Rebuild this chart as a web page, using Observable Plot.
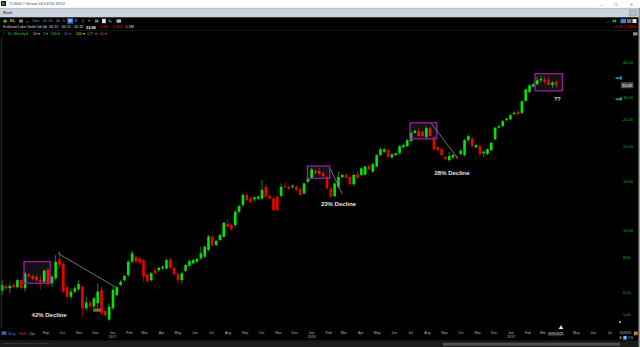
<!DOCTYPE html>
<html><head><meta charset="utf-8">
<script src="https://cdn.jsdelivr.net/npm/d3@7"></script>
<script src="https://cdn.jsdelivr.net/npm/@observablehq/plot@0.6"></script>
<style>
html,body{margin:0;padding:0;background:#000;overflow:hidden;}
#wrap{position:relative;width:640px;height:347px;overflow:hidden;background:#000;}
#wrap svg{position:absolute;left:0;top:0;}
</style></head><body><div id="wrap"></div>
<script>
// ---- data (weekly candles, Kirkland Lake Gold) ----
const firstWeek = "2016-06-13";
const lastWeek = "2019-03-25";
const open = [6.06,6.30,6.18,6.35,6.23,6.61,6.18,6.93,6.84,6.80,6.61,6.52,7.22,6.44,6.71,7.85,7.55,6.23,5.76,6.01,
6.13,6.26,5.24,5.49,5.31,5.46,6.09,5.12,4.77,5.24,5.84,6.35,6.61,6.89,7.70,8.02,7.91,7.80,6.93,6.61,
7.18,7.18,7.28,7.28,7.85,7.32,6.95,6.61,7.14,7.44,7.59,7.70,7.91,8.02,8.48,9.46,8.83,9.21,9.46,10.55,
10.42,10.42,11.63,12.30,13.36,12.99,12.90,12.95,12.99,14.30,13.25,12.99,13.17,13.25,14.40,14.30,14.25,14.30,14.05,13.54,
14.90,15.40,16.30,16.30,16.00,15.50,14.10,13.25,14.30,15.50,15.76,15.50,14.60,15.90,15.76,15.80,16.98,16.20,16.90,18.58,
19.10,19.36,18.23,18.60,18.85,19.83,20.00,20.85,22.36,22.66,22.50,21.60,23.20,21.50,19.83,19.50,18.30,17.83,18.23,18.30,
18.75,18.58,21.02,21.30,19.83,20.00,18.85,18.75,19.36,21.15,23.30,23.60,24.80,24.98,26.06,26.60,26.34,29.10,31.30,32.70,
33.40,34.47,34.70,34.47,33.20,34.15];
const high = [6.61,6.40,6.44,6.47,6.71,6.67,7.07,7.02,6.93,6.89,6.80,7.22,7.32,6.89,8.13,8.40,7.70,6.30,6.18,6.30,
6.61,6.30,5.76,5.60,5.76,6.44,6.26,5.20,5.46,6.26,6.30,6.61,6.89,7.80,8.45,8.13,8.02,7.91,6.99,7.07,
7.38,7.38,7.49,7.91,7.95,7.40,7.02,7.07,7.55,7.85,7.91,7.95,8.71,8.83,9.60,9.60,9.20,9.70,10.70,10.90,
10.55,11.80,12.30,13.54,13.60,13.20,13.20,13.30,15.12,14.70,13.50,13.10,13.36,14.70,14.80,14.50,14.60,14.50,14.20,14.80,
15.40,16.70,16.60,16.80,16.20,15.70,14.30,14.80,16.20,15.90,16.00,15.70,15.90,16.30,16.80,17.00,17.30,17.40,18.70,19.70,
19.70,19.60,18.90,19.00,20.20,20.40,21.20,22.60,22.90,23.20,22.80,23.60,23.50,21.70,20.10,19.70,18.50,19.10,18.80,18.60,
19.50,21.30,22.00,21.60,20.40,20.30,19.30,19.70,20.80,23.40,23.80,24.90,25.30,26.10,26.60,26.90,29.20,32.20,33.40,33.80,
35.50,35.80,35.60,35.40,34.20,34.21];
const low = [5.84,6.09,5.93,6.18,6.18,6.13,6.01,6.75,6.61,6.52,6.09,6.44,6.26,6.26,6.61,7.28,5.93,5.69,5.65,5.93,
6.06,4.88,5.16,5.24,5.24,5.24,4.95,4.88,4.72,5.16,5.80,6.30,6.52,6.80,7.59,7.59,7.55,6.52,6.44,6.52,
6.93,7.07,7.22,7.22,7.28,6.89,6.44,6.44,7.07,7.38,7.55,7.63,7.80,7.95,8.40,8.71,8.75,9.10,9.40,10.20,
9.95,10.20,11.50,12.10,12.70,12.50,12.70,12.80,12.81,13.10,12.90,11.70,11.63,13.10,14.10,13.90,14.10,13.80,13.30,13.40,
14.70,15.20,15.80,15.70,15.40,14.00,13.10,13.10,14.10,15.30,15.30,14.50,14.40,15.30,15.60,15.70,16.40,16.00,16.80,18.40,
18.90,18.20,18.00,18.40,18.70,19.70,19.90,20.70,22.10,21.60,21.50,21.00,21.60,19.30,19.10,18.40,17.80,17.60,18.00,17.90,
18.50,18.40,20.70,19.80,19.60,18.50,18.30,18.60,19.20,21.00,23.10,23.40,24.60,24.80,25.80,25.80,26.10,28.90,31.00,32.50,
33.00,34.00,33.20,33.00,32.40,32.32];
const close = [6.35,6.18,6.30,6.23,6.61,6.18,6.99,6.80,6.67,6.61,6.52,7.14,6.47,6.80,7.70,7.49,6.01,5.76,6.01,6.18,
6.40,5.24,5.49,5.31,5.69,6.01,5.02,4.95,5.31,6.09,6.23,6.52,6.84,7.70,8.25,7.70,7.63,6.80,6.57,6.99,
6.99,7.32,7.38,7.80,7.32,6.95,6.61,6.99,7.49,7.74,7.80,7.87,8.25,8.71,9.46,8.83,9.15,9.60,10.62,10.28,
10.06,11.63,12.19,13.36,12.81,12.60,13.10,13.17,13.92,13.17,12.99,11.80,11.80,14.30,14.25,14.05,14.40,13.92,13.36,14.70,
15.30,16.50,16.00,15.90,15.60,14.10,13.17,14.70,15.50,15.76,15.40,14.60,15.76,15.40,16.65,16.90,16.50,17.25,18.58,19.50,
19.50,18.30,18.70,18.85,20.00,20.17,21.02,22.36,22.71,21.74,21.74,23.20,21.74,19.50,19.36,18.58,17.97,18.43,18.58,18.10,
19.25,21.02,21.74,20.00,20.17,18.75,19.10,19.50,20.56,23.30,23.60,24.60,25.10,25.83,26.34,26.06,29.00,31.97,33.07,33.40,
34.47,34.80,34.10,33.20,33.80,33.09];
const yTicks = [5, 6, 8, 10, 15, 20, 25, 30, 40];
const monthTicks = ["2016-09-01","2016-10-01","2016-11-01","2016-12-01","2017-01-01","2017-02-01","2017-03-01","2017-04-01",
"2017-05-01","2017-06-01","2017-07-01","2017-08-01","2017-09-01","2017-10-01","2017-11-01","2017-12-01","2018-01-01",
"2018-02-01","2018-03-01","2018-04-01","2018-05-01","2018-06-01","2018-07-01","2018-08-01","2018-09-01","2018-10-01",
"2018-11-01","2018-12-01","2019-01-01","2019-02-01","2019-03-01","2019-05-01","2019-06-01","2019-07-01"];
const yearTicks = ["2017-01-01","2018-01-01","2019-01-01"];
const boxes = [
  {from:"2016-07-24", to:"2016-09-10", lo:6.44, hi:7.70},
  {from:"2017-12-25", to:"2018-02-04", lo:15.33, hi:16.97},
  {from:"2018-07-01", to:"2018-08-19", lo:21.27, hi:24.25},
  {from:"2019-02-15", to:"2019-04-06", lo:31.6, hi:36.4}
];
const trendLines = [
  {from:"2016-09-23", p1:8.29, to:"2017-01-07", p2:6.26},
  {from:"2018-02-04", p1:16.65, to:"2018-02-26", p2:13.54},
  {from:"2018-08-08", p1:24.25, to:"2018-09-25", p2:18.23}
];
const notes = [
  {date:"2016-09-07", price:4.99, text:"42% Decline", size:6},
  {date:"2018-02-19", price:12.45, text:"23% Decline", size:6},
  {date:"2018-09-15", price:16.03, text:"28% Decline", size:6},
  {date:"2019-03-27", price:29.6, text:"??", size:5.5}
];
const maMarkers = [35.1, 29.5];
const lastPrice = 33.09;

// ---- build ----
const D = s => new Date(s);
const dates = d3.utcMonday.range(D(firstWeek), d3.utcDay.offset(D(lastWeek), 1));
const candles = dates.map((date, i) => ({date, open: open[i], high: high[i], low: low[i], close: close[i]}));
const up = candles.filter(d => d.close >= d.open);
const down = candles.filter(d => d.close < d.open);
const FONT = "'Liberation Sans', Arial, sans-serif";

const chart = Plot.plot({
  width: 640, height: 347,
  marginTop: 0, marginBottom: 0, marginLeft: 0, marginRight: 28,
  style: {background: "#000", color: "#bbb", fontFamily: FONT, overflow: "visible"},
  x: {type: "utc", domain: [D("2016-06-10"), D("2019-07-06")], range: [0, 612], axis: null},
  y: {type: "log", domain: [5, 40], range: [313.9, 62.3], axis: null},
  marks: [
    Plot.ruleX(up, {x: "date", y1: "low", y2: "high", stroke: "#138a13", strokeWidth: 1}),
    Plot.ruleX(down, {x: "date", y1: "low", y2: "high", stroke: "#950d0d", strokeWidth: 1}),
    Plot.ruleX(up, {x: "date", y1: "open", y2: "close", stroke: "#00e600", strokeWidth: 2.6}),
    Plot.ruleX(down, {x: "date", y1: "open", y2: "close", stroke: "#ee0000", strokeWidth: 2.6}),
    Plot.rect(boxes, {x1: d => D(d.from), x2: d => D(d.to), y1: "lo", y2: "hi",
      fill: "#ffffff", fillOpacity: 0.07, stroke: "#9c1e9c", strokeWidth: 1.3}),
    Plot.link(trendLines, {x1: d => D(d.from), y1: "p1", x2: d => D(d.to), y2: "p2",
      stroke: "#8e8e8e", strokeWidth: 0.8}),
    Plot.text(notes, {x: d => D(d.date), y: "price", text: "text", fill: "#e4e4e4",
      fontWeight: "bold", fontSize: d => d.size}),
    Plot.text(yTicks, {y: d => d, text: d => d.toFixed(2), frameAnchor: "right", dx: 10.5,
      textAnchor: "start", fill: "#22b422", fontSize: 4}),
    Plot.text(monthTicks, {x: d => D(d), text: d => d3.utcFormat("%b")(D(d)), frameAnchor: "bottom",
      dy: -14, fill: "#b8b8b8", fontSize: 3.6}),
    Plot.text(yearTicks, {x: d => D(d), text: d => d.slice(0, 4), frameAnchor: "bottom",
      dy: -9.6, fill: "#b8b8b8", fontSize: 3.3})
  ]
});
document.getElementById("wrap").appendChild(chart);

// ---- application chrome overlay ----
const xs = chart.scale("x"), ys = chart.scale("y");
const ov = d3.select("#wrap").append("svg").attr("width", 640).attr("height", 347)
  .attr("font-family", FONT);
function T(x, y, s, fill, fs, o = {}) {
  return ov.append("text").attr("x", x).attr("y", y).attr("dominant-baseline", "central")
    .attr("font-size", fs).attr("fill", fill).attr("font-weight", o.w || null)
    .attr("text-anchor", o.a || "start").text(s);
}
function R(x, y, w, h, fill, o = {}) {
  return ov.append("rect").attr("x", x).attr("y", y).attr("width", w).attr("height", h)
    .attr("fill", fill).attr("stroke", o.s || null).attr("stroke-width", o.sw || null);
}
function L(x1, y1, x2, y2, c, w = 1) {
  return ov.append("line").attr("x1", x1).attr("y1", y1).attr("x2", x2).attr("y2", y2)
    .attr("stroke", c).attr("stroke-width", w);
}
// title bar
R(0, 0, 640, 8, "#ffffff");
R(1, 1, 5, 5, "#1a1a1a"); R(2, 2.2, 1.6, 2.6, "#2fbf2f"); R(3.8, 3.2, 1.4, 1.6, "#d02020");
T(9, 4, "TC2000 ® Version 18.0.6730.18752", "#444", 3.5);
T(601, 4, "—", "#555", 4, {a: "middle"});
T(616, 4, "□", "#555", 4.5, {a: "middle"});
T(631, 4, "✕", "#555", 4, {a: "middle"});
// tab bar
R(0, 8, 640, 9.3, "#ccd2de");
L(0, 8.3, 640, 8.3, "#a9b0bd", 0.6);
T(3, 12.8, "Blank", "#222", 3.8);
R(629.5, 10, 7, 6, "#b7bdc8", {s: "#8e949e", sw: 0.5});
// toolbar row
T(2.5, 21, "✚", "#34c934", 5, {w: "bold"});
T(10, 21, "KL", "#d8cf3c", 3.8, {w: "bold"});
R(19, 19.5, 4, 3, "#7d7d7d");
T(26, 21, "∞", "#8a8a8a", 4);
T(32, 21, "10m", "#9a9a9a", 3.5);
T(43, 21, "1h", "#9a9a9a", 3.5);
T(48.5, 21, "2h", "#9a9a9a", 3.5);
T(56, 21, "4h", "#9a9a9a", 3.5);
T(63, 21, "D", "#9a9a9a", 3.5);
R(67.3, 18.3, 5.8, 5.4, "#2f6fd0");
T(68.2, 21, "W", "#ffffff", 3.5);
T(74.5, 21, "M", "#9a9a9a", 3.5);
T(81.5, 21, "Q", "#9a9a9a", 3.5);
T(88, 21, "▾", "#9a9a9a", 3.5);
R(95, 19.5, 3.5, 3, "#777");
R(102, 18.8, 3.8, 4.4, "#dcdcdc");
T(108, 21, "✎", "#bbbbbb", 4.5);
R(116.5, 19.3, 4.5, 3.4, "#b0b0b0");
// right toolbar icons
T(607.5, 21, "⌂", "#8a8a8a", 4, {a: "middle"});
R(612.5, 19.6, 1.6, 2.8, "#2a8ad8"); R(614.6, 19.6, 1.6, 2.8, "#2fbf2f");
R(620.5, 18.8, 5.5, 4.4, "#3f7fe0");
R(627, 19, 4.5, 4, "#707070");
R(632.5, 19, 4, 4, "#e6e6e6");
// quote row
T(3, 27.4, "Kirkland Lake Gold Ltd (d)", "#dcdcdc", 3.8);
T(49, 27.4, "34.15", "#dcdcdc", 3.7);
T(61.5, 27.4, "34.21", "#dcdcdc", 3.7);
T(74, 27.4, "32.32", "#dcdcdc", 3.7);
T(86, 27.4, "33.09", "#ffffff", 3.9, {w: "bold"});
T(99, 27.4, "-0.78", "#e52222", 3.7);
T(111.5, 27.4, "-2.30%", "#e52222", 3.7);
T(125.5, 27.4, "2.3M", "#dcdcdc", 3.7);
T(637, 27.4, "↓ 0.78 (-2.30%)", "#e52222", 3.6, {a: "end"});
L(0, 30.6, 638, 30.6, "#262626", 0.6);
// indicator row
T(2.5, 33.8, "⁝", "#9a9a9a", 4);
T(8, 33.8, "KL Weekly ▾", "#33c433", 3.7);
T(33, 33.8, "10 ▾", "#cfcfcf", 3.7);
T(43, 33.8, "2 ▾", "#33c4a0", 3.7);
T(51, 33.8, "5SL ▾", "#33c433", 3.7);
T(64, 33.8, "50 ▾", "#4a7cff", 3.7);
T(76, 33.8, "200 ▾", "#dada2a", 3.7);
T(87.5, 33.8, "LTT ▾", "#9a9a9a", 3.7);
T(100, 33.8, "40 ▾", "#c93ac9", 3.7);
R(633, 32.3, 4.5, 3.2, "#6aa06a");
// chart frame edges
L(1.2, 38, 1.2, 328, "#3a3a3a", 0.8);
R(638.5, 8, 1.5, 339, "#9a9a9a");
// moving-average markers near the price scale
maMarkers.forEach(p => {
  const y = ys.apply(p);
  L(615.5, y, 621, y, "#20c8d8", 1.2);
  L(621, y - 2.2, 621, y + 1.6, "#20c8d8", 1.2);
});
// last price box
{
  const y = ys.apply(lastPrice);
  R(621, y - 3, 12.5, 6, "#4d4d4d");
  T(622, y, lastPrice.toFixed(2), "#ececec", 3.9);
}
// cursor date label and pointer
{
  const x = xs.apply(D(lastWeek));
  R(x - 7.5, 332, 15, 4.2, "#2a2a2a");
  T(x, 334.1, lastWeek, "#bdbdbd", 3, {a: "middle"});
  ov.append("path").attr("d", "M561,325.2 L563.4,329 L558.6,329 Z").attr("fill", "#f0f0f0");
}
ov.append("circle").attr("cx", 620).attr("cy", 322).attr("r", 0.9).attr("fill", "#f0f0f0");
// small earnings tag
{
  const x = xs.apply(D("2016-12-05")), y = ys.apply(5.16);
  R(x - 4, y - 1.6, 7.5, 3.2, "#8c6a1c");
}
// bottom bar
R(1.5, 331.3, 5, 3.6, "#2a5fb0"); R(3.2, 332.3, 2.2, 1.8, "#d33");
T(8.5, 333.2, "Buy", "#3b7fe0", 4);
T(19, 333.2, "Sell", "#e03030", 4);
T(28.5, 333.2, "Opt", "#a8a8a8", 4);
T(619.5, 333.4, "50/10%", "#a9c4e8", 3.5);
R(634, 331.6, 3.6, 3.6, "#c0873a");
T(619.5, 337.8, "A", "#bdbdbd", 3.4);
R(623, 335.8, 4.2, 4, "#2f6fd0");
T(623.7, 337.8, "B", "#ffffff", 3.4);
T(628.3, 337.8, "5%", "#bdbdbd", 3.4);
L(0, 340.8, 638, 340.8, "#333333", 0.6);
R(0, 341.2, 638, 5.8, "#1b1b1b");
R(443, 342.6, 177, 3.2, "#4d4d4d");
T(3, 343.8, "1D  5D  1M  3M  6M  YTD  1Y  5Y  10Y  All  Zoom", "#6a6a6a", 2.4);
</script></body></html>
